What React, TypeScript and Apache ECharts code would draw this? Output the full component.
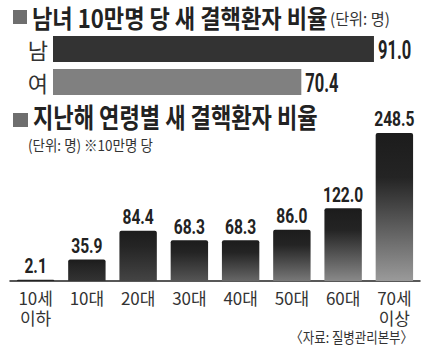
import React, { useEffect, useRef } from "react";
import * as echarts from "echarts";

const genderCategories = ["남", "여"];
const genderValues = [91.0, 70.4];

const ageCategories = ["10세\n이하", "10대", "20대", "30대", "40대", "50대", "60대", "70세\n이상"];
const ageValues = [2.1, 35.9, 84.4, 68.3, 68.3, 86.0, 122.0, 248.5];

const title1 = "남녀 10만명 당 새 결핵환자 비율";
const unit1 = "(단위: 명)";
const title2 = "지난해 연령별 새 결핵환자 비율";
const subtitle2 = "(단위: 명) ※10만명 당";
const source = "〈자료: 질병관리본부〉";

const TOP_COLORS = ["#333333", "#808080"];
const KR = "'Noto Sans CJK KR', sans-serif";
const NUM = "'Roboto', 'Noto Sans CJK KR', sans-serif";

function shade(i: number, n: number) {
  const v = Math.round(0x22 + (i / (n - 1)) * (0x9a - 0x22));
  const h = v.toString(16).padStart(2, "0");
  return "#" + h + h + h;
}

export default function App() {
  const ref = useRef<HTMLDivElement>(null);
  useEffect(() => {
    if (!ref.current) return;
    const chart = echarts.init(ref.current, null, { renderer: "svg" });
    const option: any = {
      animation: false,
      backgroundColor: "#ffffff",
      grid: [
        { left: 53, top: 32.5, height: 66, width: 352.7 },
        { left: 10, right: 3, top: 133, height: 148 },
      ],
      xAxis: [
        { gridIndex: 0, type: "value", min: 0, max: 100, show: false },
        {
          gridIndex: 1,
          type: "category",
          data: ageCategories,
          axisLine: { lineStyle: { color: "#222", width: 1.5 } },
          axisTick: { show: false },
          axisLabel: { fontSize: 17, lineHeight: 20, color: "#333", fontFamily: KR, margin: 6 },
        },
      ],
      yAxis: [
        {
          gridIndex: 0,
          type: "category",
          inverse: true,
          data: genderCategories,
          axisLine: { show: false },
          axisTick: { show: false },
          axisLabel: { fontSize: 22, color: "#333", fontFamily: KR, margin: 5 },
        },
        { gridIndex: 1, type: "value", min: 0, max: 248.5, show: false },
      ],
      series: [
        {
          type: "bar",
          xAxisIndex: 0,
          yAxisIndex: 0,
          barWidth: 26,
          data: genderValues.map((v, i) => ({ value: v, itemStyle: { color: TOP_COLORS[i] } })),
        },
        {
          type: "custom",
          xAxisIndex: 0,
          yAxisIndex: 0,
          data: genderValues.map((v, i) => [v, i]),
          renderItem: (_p: any, api: any) => {
            const v = api.value(0);
            const c = api.coord([v, api.value(1)]);
            return {
              type: "text",
              x: c[0] + 4,
              y: c[1] + 1,
              scaleX: 0.66,
              style: {
                text: Number(v).toFixed(1),
                fontSize: 25,
                fontWeight: "bold",
                fontFamily: NUM,
                fill: "#222",
                textVerticalAlign: "middle",
              },
            };
          },
        },
        {
          type: "bar",
          xAxisIndex: 1,
          yAxisIndex: 1,
          barWidth: "73%",
          data: ageValues.map((v, i) => ({
            value: v,
            itemStyle: {
              borderRadius: [2, 2, 0, 0],
              color: new echarts.graphic.LinearGradient(0, 0, 0, 1, [
                { offset: 0, color: "#1c1c1c" },
                { offset: 0.3, color: "#242424" },
                { offset: 1, color: shade(i, ageValues.length) },
              ]),
            },
          })),
        },
        {
          type: "custom",
          xAxisIndex: 1,
          yAxisIndex: 1,
          data: ageValues.map((v, i) => [i, v]),
          renderItem: (_p: any, api: any) => {
            const v = api.value(1);
            const c = api.coord([api.value(0), v]);
            return {
              type: "text",
              x: c[0],
              y: c[1] - 4,
              scaleX: 0.78,
              style: {
                text: Number(v).toFixed(1),
                fontSize: 20,
                fontWeight: "bold",
                fontFamily: NUM,
                fill: "#222",
                textAlign: "center",
                textVerticalAlign: "bottom",
              },
            };
          },
        },
      ],
      graphic: [
        { type: "rect", shape: { x: 13, y: 10, width: 14, height: 14 }, style: { fill: "#6e6e6e" } },
        { type: "rect", shape: { x: 13, y: 113, width: 15, height: 14 }, style: { fill: "#6e6e6e" } },
        {
          type: "text", x: 32, y: 5, scaleX: 0.885,
          style: { text: title1, fontSize: 25, fontWeight: "bold", fontFamily: KR, fill: "#222", textVerticalAlign: "top" },
        },
        {
          type: "text", x: 330, y: 10, scaleX: 0.95,
          style: { text: unit1, fontSize: 16, fontFamily: KR, fill: "#333", textVerticalAlign: "top" },
        },
        {
          type: "text", x: 33, y: 102, scaleX: 0.82,
          style: { text: title2, fontSize: 27, fontWeight: "bold", fontFamily: KR, fill: "#222", textVerticalAlign: "top" },
        },
        {
          type: "text", x: 28, y: 137, scaleX: 0.9,
          style: { text: subtitle2, fontSize: 15, fontFamily: KR, fill: "#333", textVerticalAlign: "top" },
        },
        {
          type: "text", x: 413, y: 329, scaleX: 0.83,
          style: { text: source, fontSize: 15, fontFamily: KR, fill: "#333", textAlign: "right", textVerticalAlign: "top" },
        },
      ],
    };
    chart.setOption(option);
    return () => chart.dispose();
  }, []);
  return (
    <div
      ref={ref}
      style={{ position: "fixed", left: 0, top: 0, width: 423, height: 351, background: "#fff" }}
    />
  );
}
